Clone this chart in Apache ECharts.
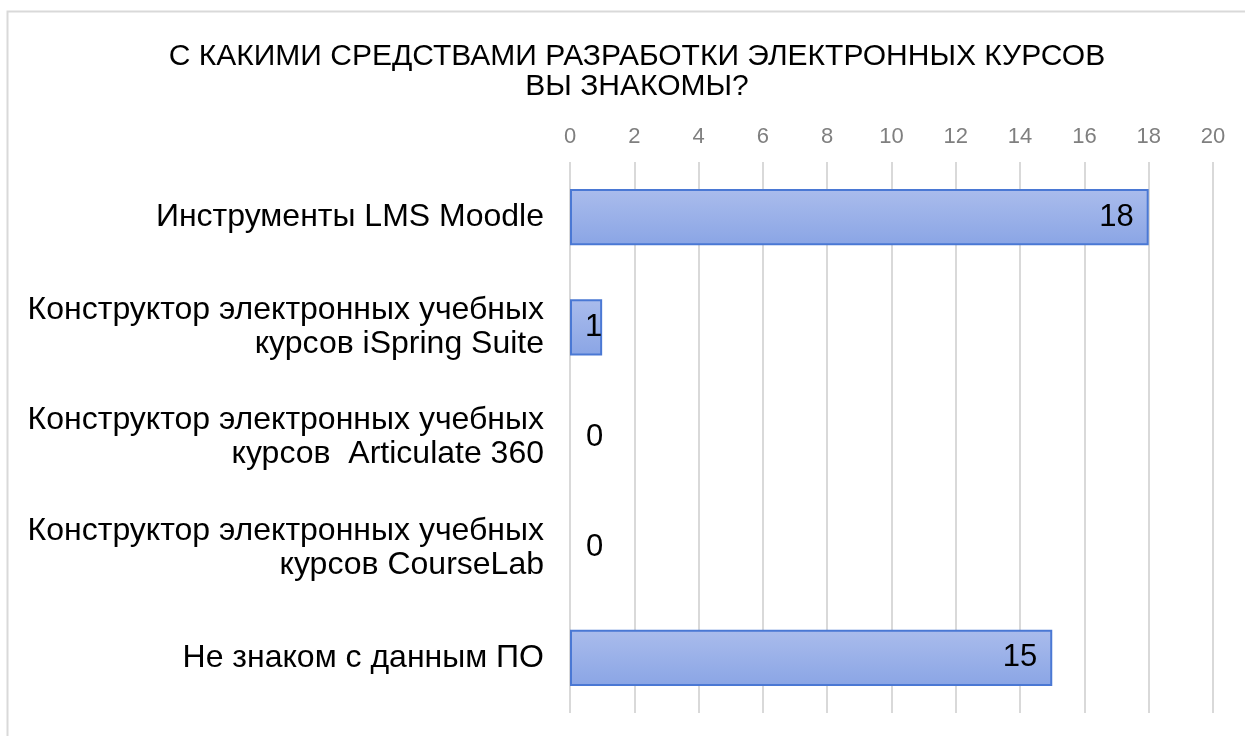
<!DOCTYPE html>
<html>
<head>
<meta charset="utf-8">
<script src="https://cdn.jsdelivr.net/npm/echarts@6/dist/echarts.min.js"></script>
<style>
  html, body { margin: 0; padding: 0; background: #fff; }
  #main { width: 1245px; height: 736px; }
</style>
</head>
<body>
<div id="main"></div>
<script>
// данные диаграммы
var categories = [
    'Инструменты LMS Moodle',
    'Конструктор электронных учебных\nкурсов iSpring Suite',
    'Конструктор электронных учебных\nкурсов  Articulate 360',
    'Конструктор электронных учебных\nкурсов CourseLab',
    'Не знаком с данным ПО'
];
var values = [18, 1, 0, 0, 15];
var axisMin = 0, axisMax = 20, axisStep = 2;

var init_chart = function() {
    var myChart = echarts.init(document.getElementById('main'));

    let font = '"Liberation Sans", Arial, sans-serif';

    // подписи: внутри конца столбца, для нуля — справа от оси
    let barData = values.map(function(v) {
        if (v == 0) {
            return {
                value: v,
                itemStyle: { borderColor: 'transparent' },
                label: { position: 'right', distance: 15 }
            };
        }
        return {
            value: v,
            label: { position: 'insideRight', distance: v < 2 ? 0 : 15 }
        };
    });

    option = {
        animation: false,
        title: {
            text: 'С КАКИМИ СРЕДСТВАМИ РАЗРАБОТКИ ЭЛЕКТРОННЫХ КУРСОВ\nВЫ ЗНАКОМЫ?',
            left: 632,
            top: 37,
            textAlign: 'center',
            textStyle: {
                fontFamily: font,
                fontSize: 30,
                fontWeight: 'normal',
                color: '#000',
                lineHeight: 30
            }
        },
        graphic: [{
            type: 'rect',
            shape: { x: 7.5, y: 11.5, width: 1260, height: 760 },
            style: { fill: 'none', stroke: '#d9d9d9', lineWidth: 2 },
            silent: true
        }],
        grid: { left: 570, right: 32, top: 162, bottom: 23 },
        xAxis: {
            type: 'value',
            position: 'top',
            min: axisMin,
            max: axisMax,
            interval: axisStep,
            axisLine: { show: false },
            axisTick: { show: false },
            axisLabel: { fontFamily: font, fontSize: 22, color: '#7f7f7f', margin: 14 },
            splitLine: { lineStyle: { color: '#d9d9d9', width: 2 } }
        },
        yAxis: {
            type: 'category',
            inverse: true,
            data: categories,
            axisLine: { show: false },
            axisTick: { show: false },
            axisLabel: {
                fontFamily: font, fontSize: 32, color: '#000',
                lineHeight: 34, align: 'right', margin: 26
            }
        },
        series: [{
            type: 'bar',
            data: barData,
            barWidth: '51%',
            itemStyle: {
                color: new echarts.graphic.LinearGradient(0, 0, 0, 1, [
                    { offset: 0, color: '#aabcec' },
                    { offset: 1, color: '#8aa5e5' }
                ]),
                borderColor: '#4a78d4',
                borderWidth: 2
            },
            label: {
                show: true,
                fontFamily: font,
                fontSize: 31,
                color: '#000'
            }
        }]
    };

    myChart.setOption(option);
};

init_chart();
</script>
</body>
</html>
